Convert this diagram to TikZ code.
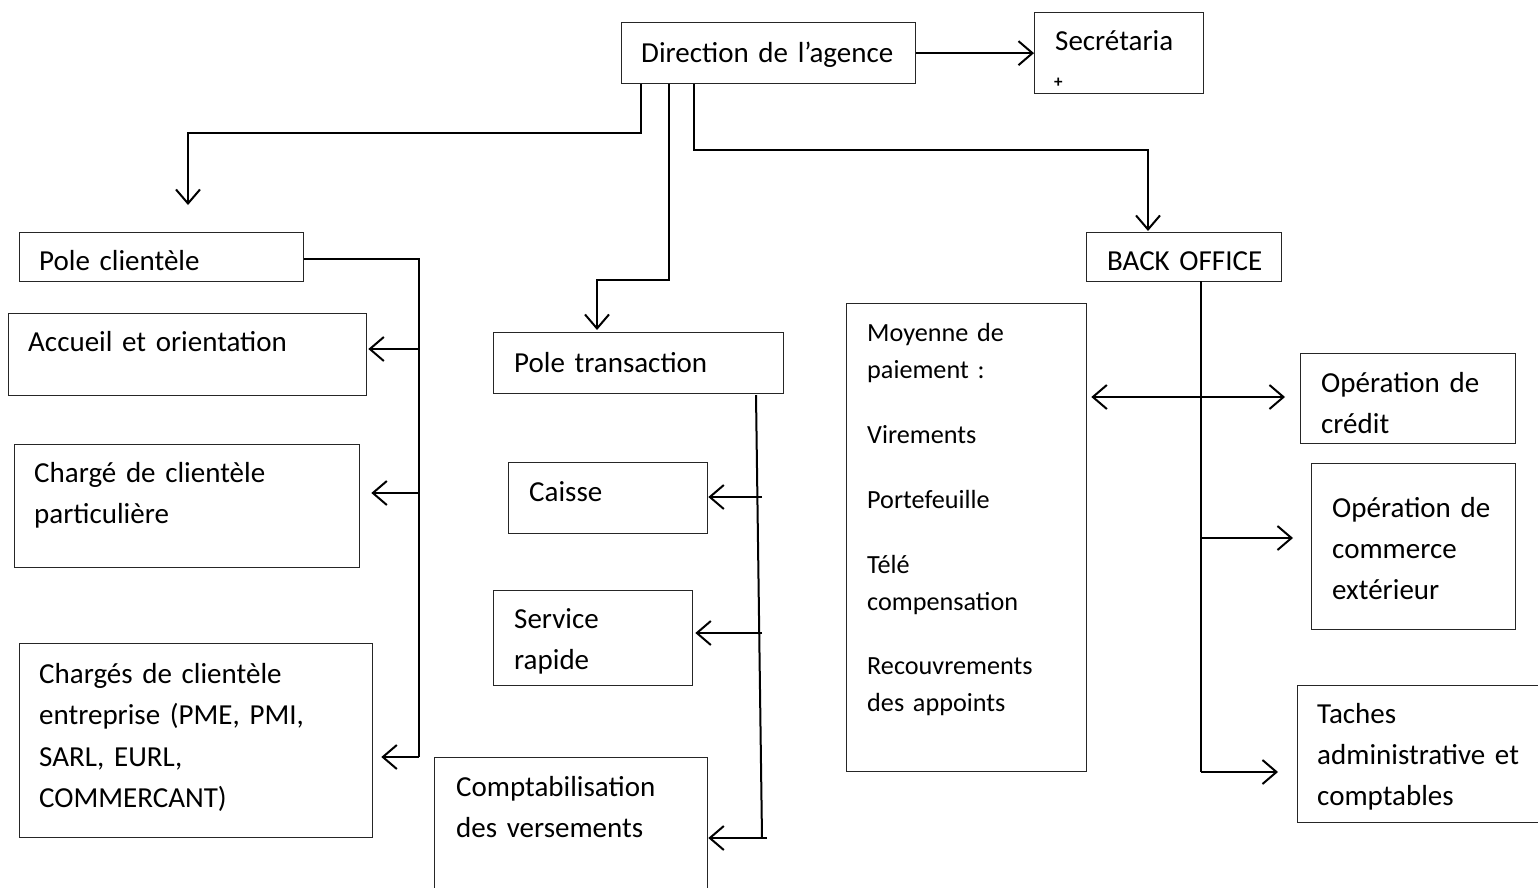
\documentclass[tikz,border=0pt]{standalone}
\usepackage{fontspec}
\setmainfont{Carlito}
\usetikzlibrary{arrows.meta,calc}
\begin{document}
\begin{tikzpicture}[x=1pt,y=-1pt,
  box/.style={draw=black!85,line width=1.3pt,anchor=north west,inner sep=0pt},
  txt/.style={anchor=base west,inner sep=0pt,text width=420pt,align=left,
    font=\fontsize{29}{41}\selectfont},
  conn/.style={line width=2pt},
  tip/.tip={Straight Barb[length=14pt,width=24pt,line width=2pt]},
  arr/.style={conn,-tip}]
\useasboundingbox (0,0) rectangle (1538,887);
% boxes
\node[box,minimum width=294pt,minimum height=61pt] (dir) at (621,22) {};
\node[box,minimum width=169pt,minimum height=81pt] (sec) at (1034,12) {};
\node[box,minimum width=284pt,minimum height=49pt] (pc) at (19,232) {};
\node[box,minimum width=358pt,minimum height=82pt] (acc) at (8,313) {};
\node[box,minimum width=345pt,minimum height=123pt] (par) at (14,444) {};
\node[box,minimum width=353pt,minimum height=194pt] (ent) at (19,643) {};
\node[box,minimum width=290pt,minimum height=61pt] (pt) at (493,332) {};
\node[box,minimum width=199pt,minimum height=71pt] (cai) at (508,462) {};
\node[box,minimum width=199pt,minimum height=95pt] (sr) at (493,590) {};
\node[box,minimum width=273pt,minimum height=140pt] (cv) at (434,757) {};
\node[box,minimum width=195pt,minimum height=49pt] (bo) at (1086,232) {};
\node[box,minimum width=240pt,minimum height=468pt] (moy) at (846,303) {};
\node[box,minimum width=215pt,minimum height=90pt] (crd) at (1300,353) {};
\node[box,minimum width=204pt,minimum height=166pt] (com) at (1311,463) {};
\node[box,minimum width=250pt,minimum height=137pt] (tac) at (1297,685) {};
% texts
\node[txt] (tdir) at (641,62) {Direction de l’agence};
\node[txt] (tsec) at (1055,50) {Secrétaria};
\node[txt,font=\fontsize{17}{17}\selectfont\bfseries] (tplus) at (1054,87) {+};
\node[txt] (tpc) at (39,270) {Pole clientèle};
\node[txt] (tacc) at (28,351) {Accueil et orientation};
\node[txt] (tpar) at (34,482) {Chargé de clientèle\\particulière};
\node[txt,font=\fontsize{29}{41.5}\selectfont] (tent) at (39,683) {Chargés de clientèle\\entreprise (PME, PMI,\\SARL, EURL,\\COMMERCANT)};
\node[txt] (tpt) at (514,372) {Pole transaction};
\node[txt] (tcai) at (529,501) {Caisse};
\node[txt] (tsr) at (514,628) {Service\\rapide};
\node[txt] (tcv) at (456,796) {Comptabilisation\\des versements};
\node[txt] (tbo) at (1107,270) {BACK OFFICE};
\node[txt,font=\fontsize{26.2}{37}\selectfont] (tmoy) at (867,341) {Moyenne de\\paiement :\\[28pt]Virements\\[28pt]Portefeuille\\[28pt]Télé\\compensation\\[27pt]Recouvrements\\des appoints};
\node[txt] (tcrd) at (1321,392) {Opération de\\crédit};
\node[txt] (tcom) at (1332,517) {Opération de\\commerce\\extérieur};
\node[txt] (ttac) at (1317,723) {Taches\\administrative et\\comptables};
% coordinates
\coordinate (pcin) at (188,205);
\coordinate (ptin) at (597,330);
\coordinate (boin) at (1148,231);
\coordinate (pcbot) at (419,757);
\coordinate (c1) at (419,349);
\coordinate (c2) at (419,493);
\coordinate (t0) at (756,395);
\coordinate (t1) at (762,838);
\coordinate (t2) at (762,497);
\coordinate (t3) at (762,633);
\coordinate (t4) at (767,838);
\coordinate (b0) at (1201,281);
\coordinate (b1) at (1201,772);
\coordinate (b2) at (1201,397);
\coordinate (b3) at (1201,538);
% connectors
\draw[arr] (dir.east) -- (sec.west);
\draw[arr] ($(dir.south west)+(20,0)$) -- ++(0,49) -| (pcin);
\draw[arr] ($(dir.south west)+(48,0)$) -- ++(0,196) -| (ptin);
\draw[arr] ($(dir.south west)+(73,0)$) -- ++(0,66) -| (boin);
\draw[conn] ($(pc.east)+(0,2)$) -| (pcbot);
\draw[arr,shorten >=8pt] (pcbot) -- (pcbot -| ent.east);
\draw[arr,shorten >=1pt] (c1) -- (c1 -| acc.east);
\draw[arr,shorten >=11pt] (c2) -- (c2 -| par.east);
\draw[conn] (t0) -- (t1);
\draw[arr] (t2) -- (t2 -| cai.east);
\draw[arr,shorten >=2pt] (t3) -- (t3 -| sr.east);
\draw[arr] (t4) -- (t4 -| cv.east);
\draw[conn] (b0) -- (b1);
\draw[conn,tip-tip,shorten <=4pt,shorten >=15pt] (b2 -| moy.east) -- (b2 -| crd.west);
\draw[arr,shorten >=18pt] (b3) -- (b3 -| com.west);
\draw[arr,shorten >=19pt] (b1) -- (b1 -| tac.west);
\end{tikzpicture}
\end{document}
